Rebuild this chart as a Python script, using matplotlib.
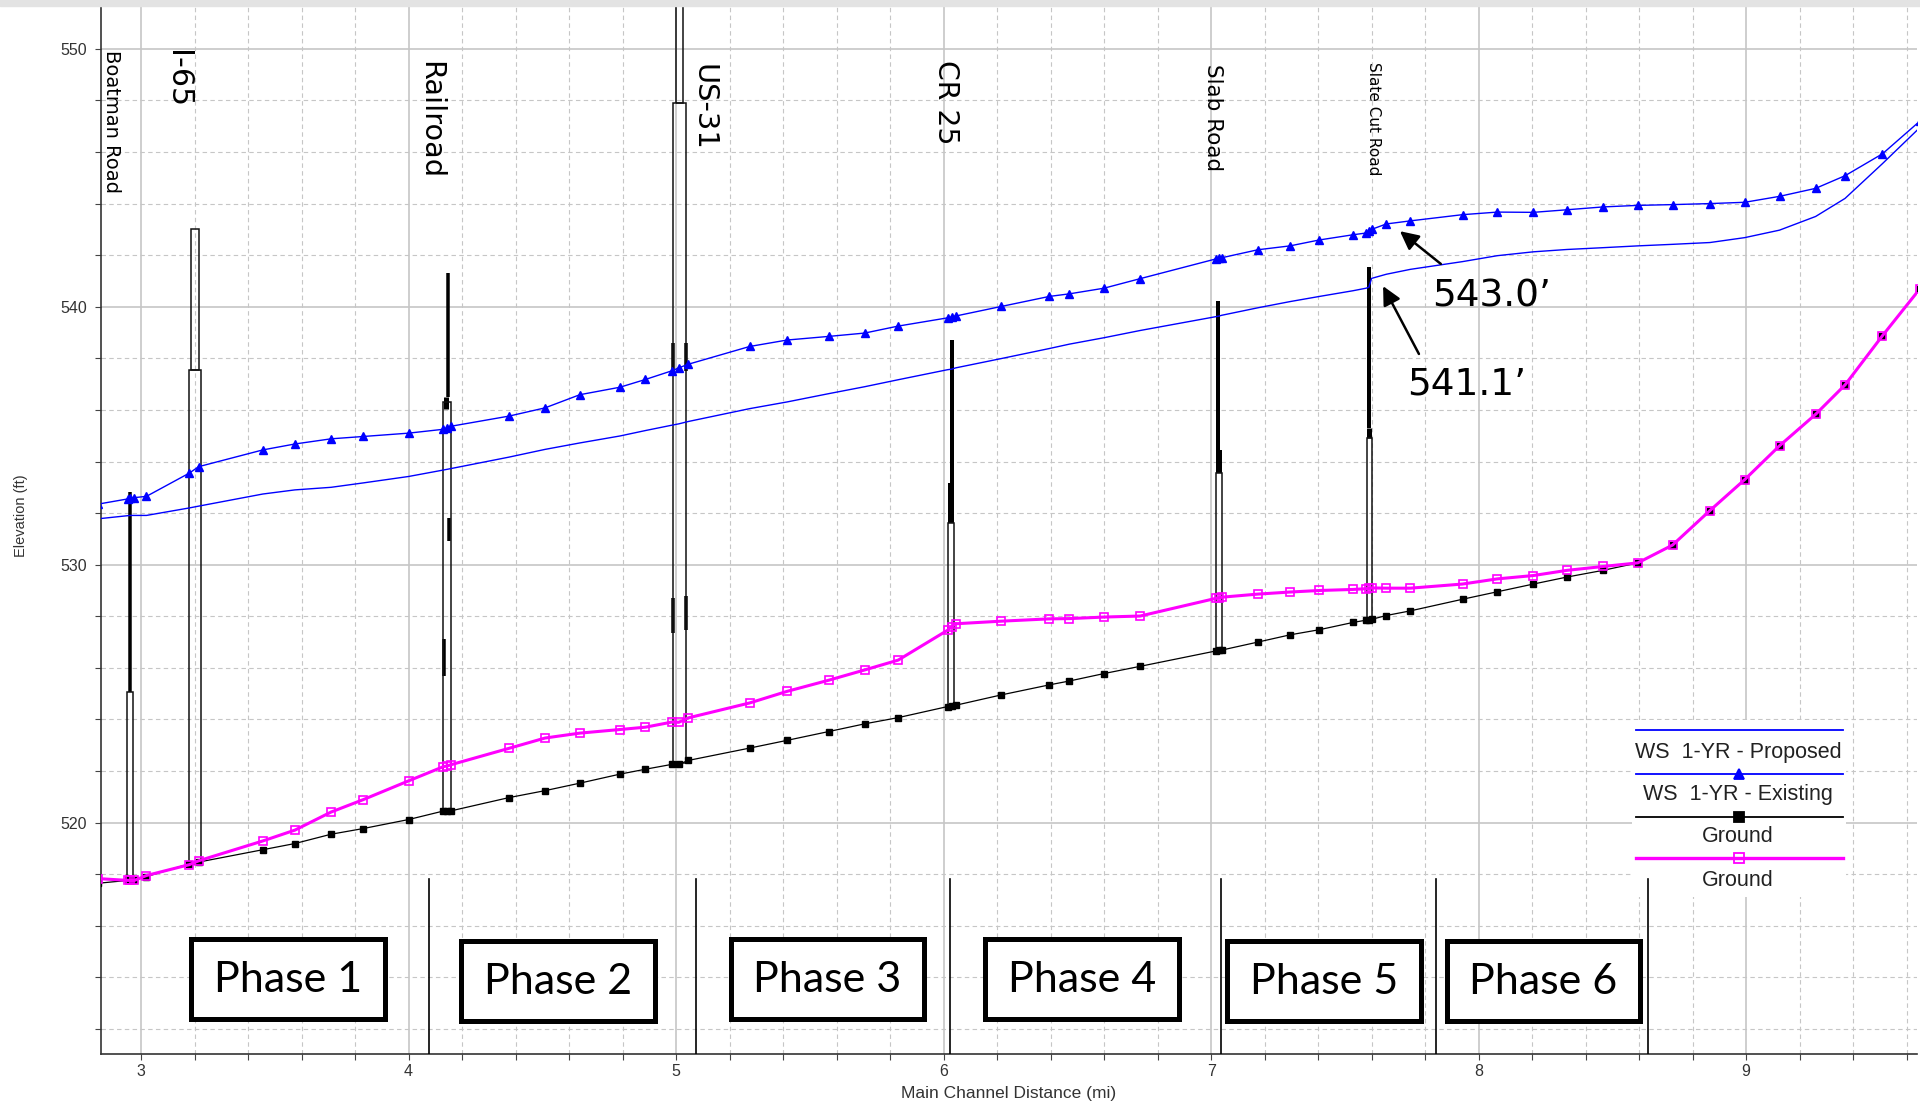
import matplotlib
matplotlib.use("Agg")
import matplotlib.pyplot as plt
import numpy as np
from matplotlib.patches import Rectangle
from matplotlib.lines import Line2D
from matplotlib.ticker import MultipleLocator

plt.rcParams['font.family'] = ['Liberation Sans', 'DejaVu Sans']
NARROW = ['Liberation Sans Narrow', 'DejaVu Sans Condensed', 'DejaVu Sans']

# river stations (mi) shared by all profiles
station = [2.84, 2.95, 2.96, 2.975, 3.02, 3.18, 3.215, 3.455, 3.575, 3.71,
           3.83, 4.0, 4.13, 4.145, 4.16, 4.375, 4.51, 4.64, 4.79, 4.885,
           4.985, 5.01, 5.045, 5.275, 5.415, 5.57, 5.705, 5.83, 6.015, 6.03,
           6.045, 6.215, 6.395, 6.47, 6.6, 6.735, 7.02, 7.03, 7.04, 7.175,
           7.295, 7.405, 7.53, 7.58, 7.59, 7.6, 7.655, 7.745, 7.94, 8.07,
           8.205, 8.33, 8.465, 8.595, 8.725, 8.865, 8.995, 9.125, 9.26, 9.37,
           9.51, 9.65]

ws_existing = [532.35, 532.55, 532.6, 532.6, 532.65, 533.55, 533.8, 534.45, 534.68, 534.88,
               534.97, 535.1, 535.25, 535.3, 535.37, 535.76, 536.08, 536.59, 536.88, 537.18,
               537.52, 537.63, 537.77, 538.46, 538.71, 538.85, 538.98, 539.25, 539.57, 539.6,
               539.64, 540.01, 540.4, 540.5, 540.72, 541.09, 541.86, 541.88, 541.9, 542.21,
               542.36, 542.59, 542.79, 542.86, 542.93, 543.0, 543.21, 543.33, 543.57, 543.67,
               543.66, 543.76, 543.87, 543.93, 543.96, 544.0, 544.05, 544.28, 544.59, 545.08,
               545.93, 547.2]

ws_proposed = [531.78, 531.9, 531.91, 531.91, 531.91, 532.2, 532.27, 532.74, 532.9, 533.0,
               533.17, 533.42, 533.67, 533.7, 533.73, 534.17, 534.47, 534.72, 534.99, 535.2,
               535.41, 535.46, 535.55, 536.05, 536.31, 536.63, 536.9, 537.17, 537.56, 537.58,
               537.63, 537.99, 538.38, 538.55, 538.8, 539.08, 539.62, 539.64, 539.67, 539.96,
               540.2, 540.4, 540.62, 540.72, 540.76, 541.1, 541.26, 541.45, 541.75, 541.98,
               542.13, 542.22, 542.29, 542.36, 542.42, 542.49, 542.68, 542.97, 543.5, 544.2,
               545.55, 546.95]

ground_proposed = [517.65, 517.76, 517.76, 517.77, 517.91, 518.4, 518.47, 518.95, 519.19, 519.55,
                   519.77, 520.12, 520.45, 520.45, 520.46, 520.97, 521.24, 521.53, 521.88, 522.07,
                   522.26, 522.26, 522.41, 522.89, 523.19, 523.53, 523.83, 524.07, 524.5, 524.52,
                   524.55, 524.95, 525.34, 525.49, 525.78, 526.06, 526.66, 526.68, 526.69, 527.0,
                   527.28, 527.48, 527.76, 527.85, 527.87, 527.88, 528.03, 528.21, 528.66, 528.95,
                   529.25, 529.52, 529.78, 530.07, 530.76, 532.1, 533.3, 534.61, 535.83, 536.97,
                   538.88, 540.7]

ground_existing = [517.83, 517.76, 517.76, 517.76, 517.95, 518.37, 518.52, 519.29, 519.71, 520.41,
                   520.89, 521.62, 522.17, 522.2, 522.25, 522.88, 523.28, 523.47, 523.61, 523.7,
                   523.9, 523.89, 524.06, 524.64, 525.09, 525.52, 525.92, 526.3, 527.46, 527.6,
                   527.71, 527.81, 527.9, 527.91, 527.97, 528.01, 528.7, 528.72, 528.74, 528.86,
                   528.94, 529.0, 529.04, 529.07, 529.08, 529.1, 529.09, 529.09, 529.25, 529.45,
                   529.58, 529.78, 529.93, 530.07, 530.76, 532.1, 533.3, 534.61, 535.83, 536.97,
                   538.88, 540.7]

# bridge decks: station, bottom, top, stroke width (px)
deck_mi = [2.9585, 4.1462, 4.1398, 4.1499, 4.1331, 4.9895, 5.0370, 4.9895, 5.0370,
           6.0303, 6.0284, 7.0270, 7.0284, 7.5903, 7.5916]
deck_bot = [525.05, 536.5, 536.05, 530.9, 525.7, 537.5, 537.5, 527.35, 527.46,
            533.15, 531.6, 534.45, 533.57, 535.29, 534.9]
deck_top = [532.8, 541.3, 536.5, 531.8, 527.1, 538.6, 538.6, 528.7, 528.8,
            538.7, 533.15, 540.23, 534.45, 541.55, 535.29]
deck_w = [3.5, 3.5, 5, 3.5, 3.5, 3.5, 3.5, 3.5, 3.5, 4, 6, 4, 6, 4, 5]

# bridge openings / piers: left, right, bottom, top
open_left = [2.9484, 3.1802, 3.1877, 4.1297, 4.9895, 4.9996, 6.0176, 7.0172, 7.5828]
open_right = [2.9708, 3.2250, 3.2176, 4.1574, 5.0370, 5.0269, 6.0389, 7.0396, 7.6004]
open_bot = [517.76, 518.4, 537.56, 520.45, 522.3, 547.9, 524.5, 526.66, 527.87]
open_top = [525.05, 537.56, 543.0, 536.3, 547.9, 556.0, 531.6, 533.57, 534.9]

bridge_names = ['Boatman Road', 'I-65', 'Railroad', 'US-31', 'CR 25', 'Slab Road', 'Slate Cut Road']
bridge_label_x = [2.891, 3.135, 4.082, 5.102, 6.008, 7.007, 7.606]
bridge_label_top = [549.95, 549.95, 549.52, 549.41, 549.56, 549.41, 549.47]
bridge_label_size = [14, 21.6, 20.7, 20.8, 20.3, 15.5, 11]

phase_names = ['Phase 1', 'Phase 2', 'Phase 3', 'Phase 4', 'Phase 5', 'Phase 6']
phase_split = [4.0763, 5.0744, 6.0224, 7.0370, 7.8407, 8.6333]

W, H = 1920, 1104
fx = lambda px: px / W
fy = lambda py: 1 - py / H

fig = plt.figure(figsize=(19.2, 11.04), dpi=100)
fig.patches.append(Rectangle((0, fy(6)), 1, 6 / H, transform=fig.transFigure,
                             color='#e3e3e3', zorder=0))
ax = fig.add_axes([fx(101), fy(1054), (1917 - 101) / W, (1054 - 6) / H])
ax.set_xlim(2.85, 9.639)
ax.set_ylim(511.03, 551.66)

ax.xaxis.set_major_locator(MultipleLocator(1))
ax.xaxis.set_minor_locator(MultipleLocator(0.2))
ax.yaxis.set_major_locator(MultipleLocator(10))
ax.yaxis.set_minor_locator(MultipleLocator(2))
ax.grid(which='major', color='#c6c6c6', lw=1.2, ls='-')
ax.grid(which='minor', color='#c6c6c6', lw=0.8, ls=(0, (4, 3)))
ax.set_axisbelow(True)
ax.tick_params(which='both', direction='out', length=4, width=0.8, color='#444')
ax.tick_params(axis='both', labelsize=11.5, labelcolor='#333')
ax.tick_params(axis='y', pad=6)
ax.tick_params(axis='x', pad=3)
for s in ['top', 'right']:
    ax.spines[s].set_visible(False)
for s in ['left', 'bottom']:
    ax.spines[s].set_color('#333')
    ax.spines[s].set_linewidth(1.2)

px2pt = 0.72

# bridges
for x, b, t, w in zip(deck_mi, deck_bot, deck_top, deck_w):
    ax.plot([x, x], [b, t], color='black', lw=w * px2pt, solid_capstyle='butt', zorder=2)
for l, r, b, t in zip(open_left, open_right, open_bot, open_top):
    ax.add_patch(Rectangle((l, b), r - l, t - b, fill=False, ec='#111', lw=1.1, zorder=2))

# profiles
ax.plot(station, ws_proposed, color='blue', lw=1.0, zorder=3)
ax.plot(station, ws_existing, color='blue', lw=1.0, marker='^', ms=6, zorder=3)
ax.plot(station, ground_proposed, color='black', lw=0.9, marker='s', ms=5, zorder=3)
ax.plot(station, ground_existing, color='magenta', lw=2.2, marker='s', ms=6,
        mfc='none', mec='magenta', mew=1.2, zorder=4)

for name, x, t, s in zip(bridge_names, bridge_label_x, bridge_label_top, bridge_label_size):
    ax.text(x, t, name, rotation=-90, ha='center', va='top', fontsize=s, family=NARROW, zorder=5)

# water surface call-outs
arrow = dict(arrowstyle='-|>', color='black', lw=1.8, mutation_scale=28, shrinkA=0, shrinkB=0)
ax.annotate('', xy=(7.706, 542.93), xytext=(7.859, 541.66), arrowprops=arrow, zorder=6)
ax.annotate('', xy=(7.643, 540.80), xytext=(7.777, 538.17), arrowprops=arrow, zorder=6)
ax.text(8.05, 540.41, '543.0\u2019', ha='center', va='center', fontsize=27, family=NARROW, zorder=6)
ax.text(7.957, 536.97, '541.1\u2019', ha='center', va='center', fontsize=27, family=NARROW, zorder=6)

# legend background sits over the grid but under the phase dividers
ax.add_patch(Rectangle((fx(1632), fy(897)), (1846 - 1632) / W, (897 - 720) / H,
                       transform=fig.transFigure, fc='white', ec='none', zorder=2.5,
                       clip_on=False))

# phase dividers
for x in phase_split:
    ax.plot([x, x], [ax.get_ylim()[0], 517.8], color='black', lw=1.2, zorder=5)

# phase boxes
boxes = [(191, 385, 939, 1019), (461, 655, 941, 1021), (731, 924, 939, 1019),
         (985, 1179, 939, 1019), (1227, 1421, 941, 1021), (1447, 1640, 941, 1021)]
for name, (x0, x1, y0, y1) in zip(phase_names, boxes):
    fig.add_artist(Rectangle((fx(x0), fy(y1)), (x1 - x0) / W, (y1 - y0) / H,
                             transform=fig.transFigure, fc='white', ec='black', lw=3.6, zorder=5))
    fig.text(fx((x0 + x1) / 2), fy((y0 + y1) / 2 + 1), name, ha='center', va='center',
             fontsize=31, family=['Lato', 'DejaVu Sans'], zorder=6)

# legend entries
leg_lines = [(730, 'blue', 1.3, None, 'blue'), (774, 'blue', 1.3, '^', 'blue'),
             (816.6, 'black', 1.3, 's', 'black'), (857.5, 'magenta', 2.4, 's', 'none')]
for y, c, lw, m, mfc in leg_lines:
    fig.add_artist(Line2D([fx(1636), fx(1843)], [fy(y), fy(y)], color=c, lw=lw,
                          transform=fig.transFigure, zorder=6))
    if m:
        fig.add_artist(Line2D([fx(1739)], [fy(y)], color=c, marker=m, ms=7, mfc=mfc,
                              mec=c, mew=1.3, transform=fig.transFigure, zorder=7))
for y, t in [(752.3, 'WS  1-YR - Proposed'), (794.7, 'WS  1-YR - Existing'),
             (836, 'Ground'), (880.6, 'Ground')]:
    fig.text(fx(1738), fy(y), t, ha='center', va='center', fontsize=15.5, color='#222', zorder=7)

fig.text(fx(1009), fy(1093.5), 'Main Channel Distance (mi)', ha='center', va='center',
         fontsize=12.5, color='#333')
fig.text(fx(21), fy(516), 'Elevation (ft)', ha='center', va='center', rotation=90,
         fontsize=10.5, color='#333')

fig.savefig('out.png', dpi=100, facecolor='white')
